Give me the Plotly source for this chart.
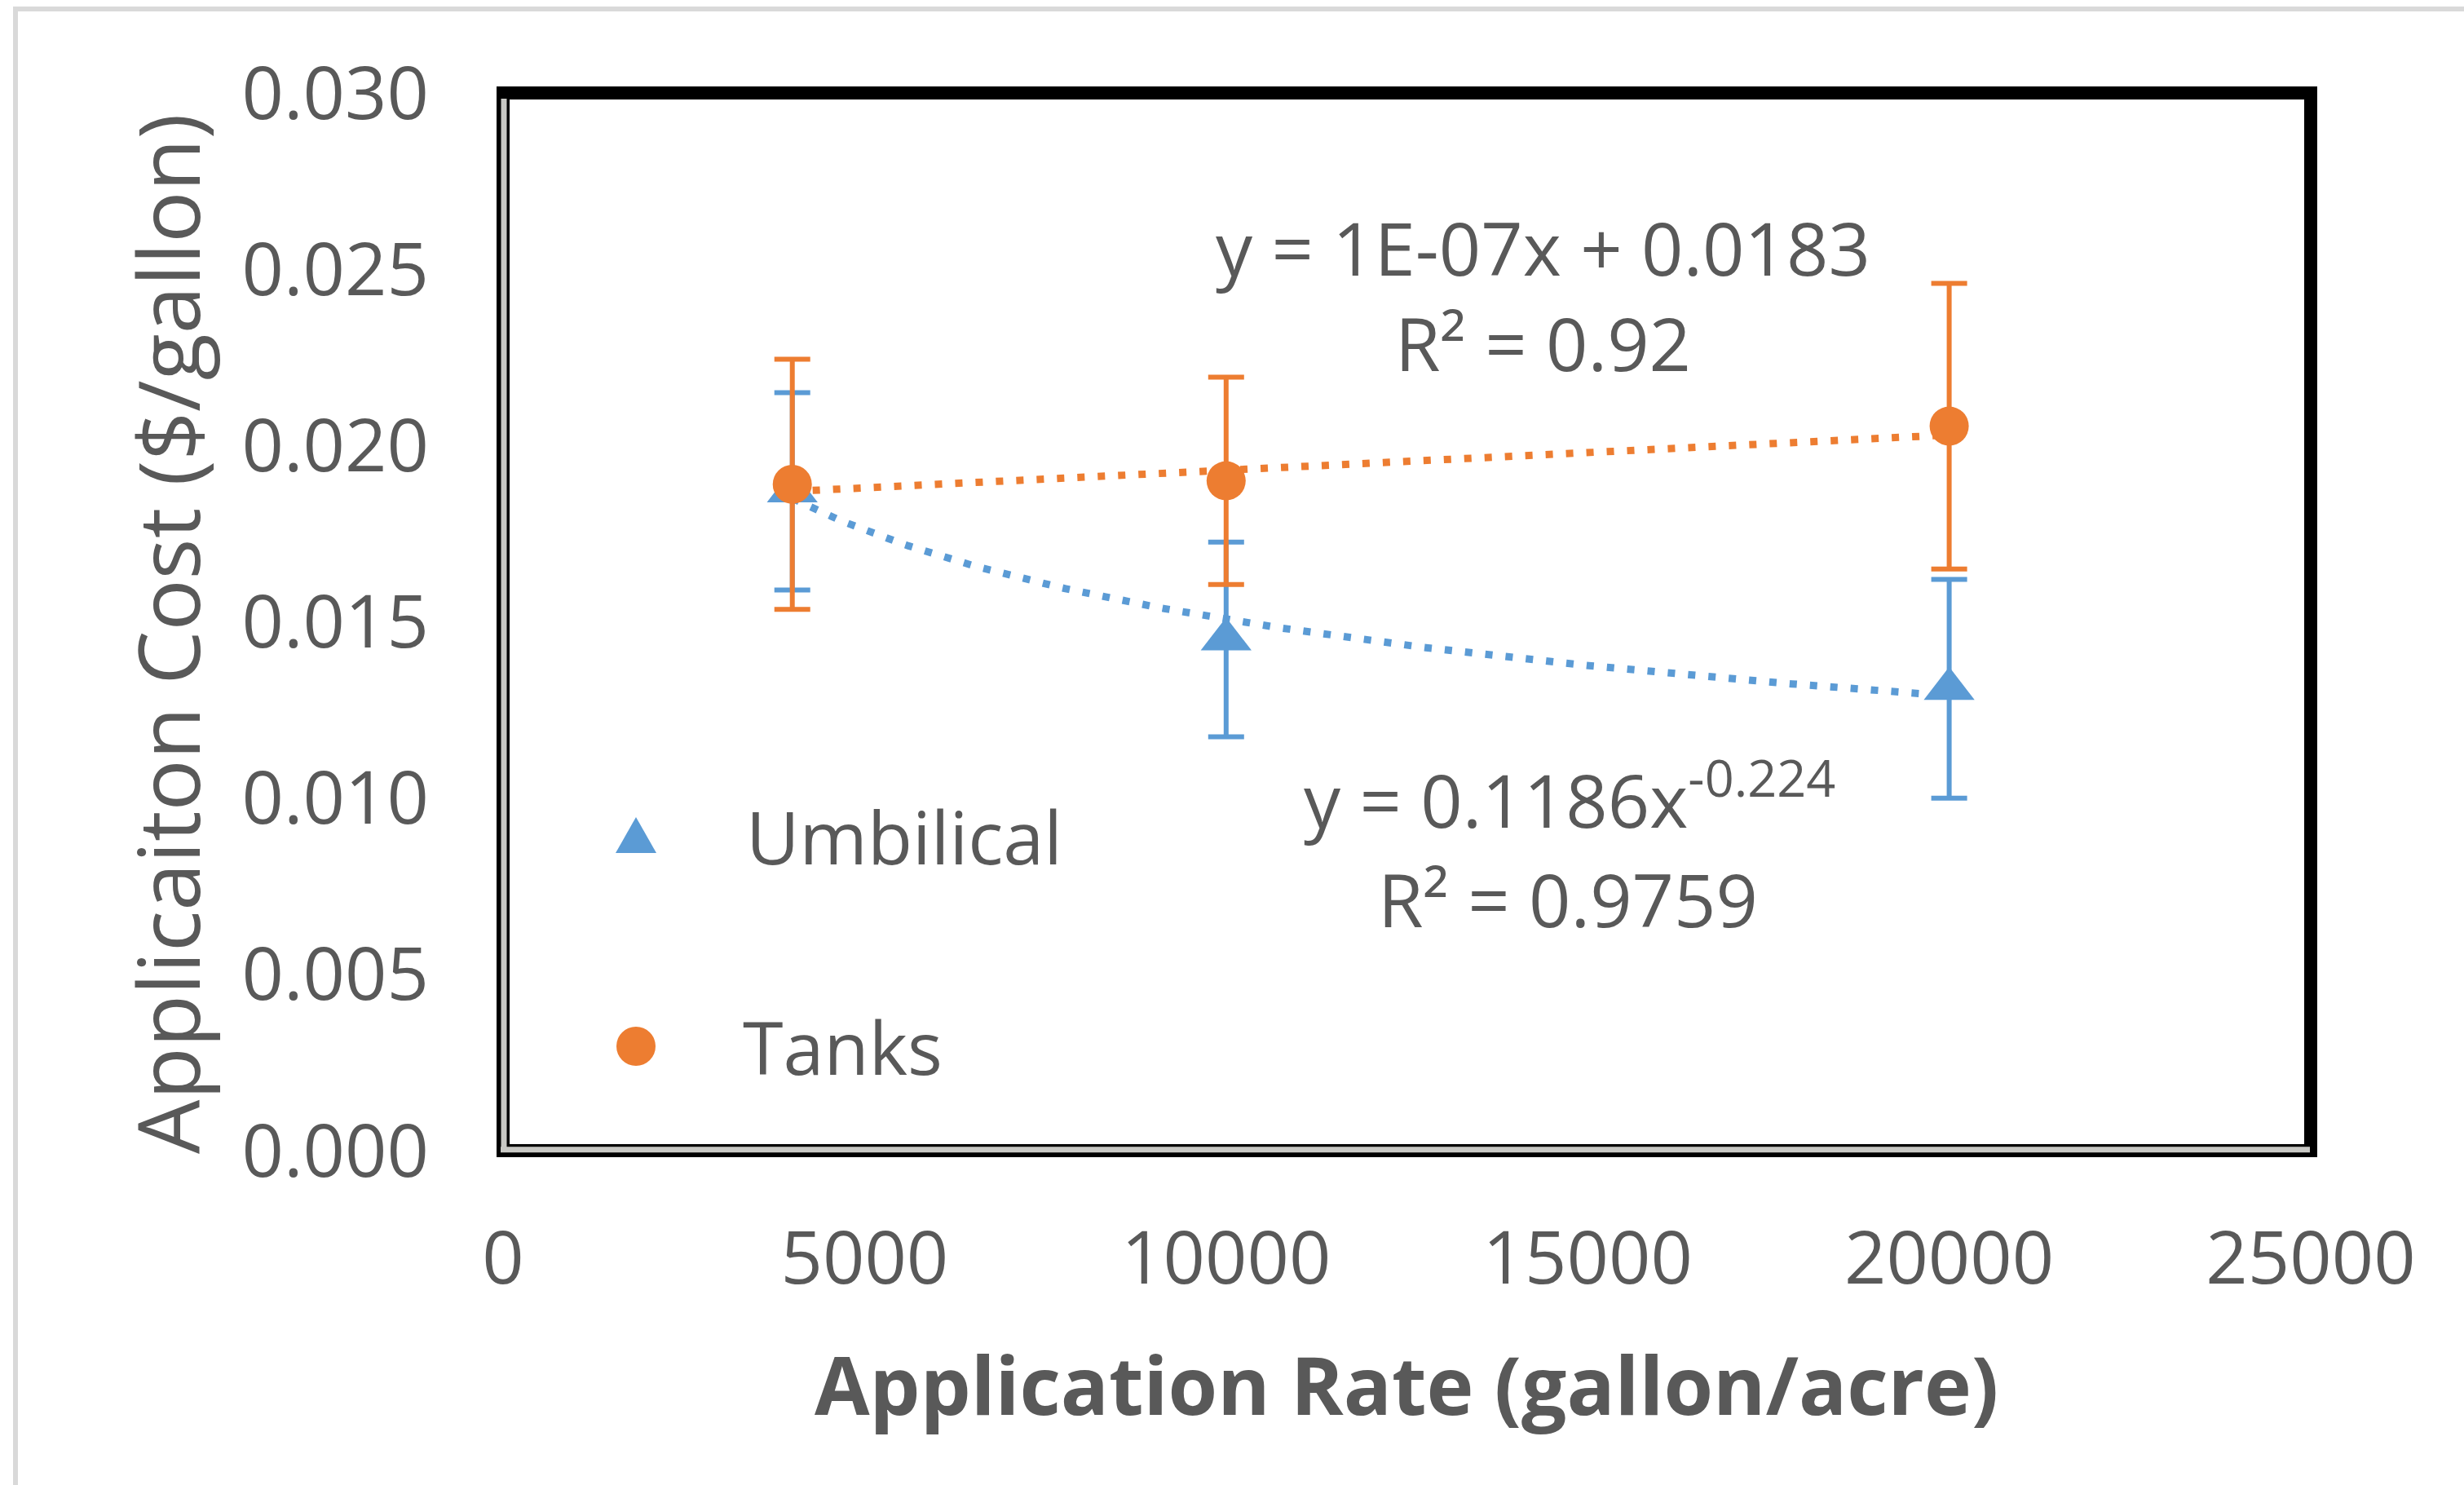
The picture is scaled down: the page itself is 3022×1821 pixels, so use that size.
import numpy as np
import plotly.graph_objects as go

# ---- data ----
rate = [4000, 10000, 20000]                       # gallon/acre
umbilical_cost = [0.0187, 0.0145, 0.0131]         # $/gallon
umbilical_err = [0.0028, 0.00276, 0.0031]
tanks_cost = [0.0189, 0.0190, 0.02055]
tanks_err = [0.00355, 0.00294, 0.00405]

# trendline coefficients (as reported on the chart)
tanks_slope, tanks_intercept = 1e-07, 0.0183
umb_coef, umb_exp = 0.1186, -0.224

x_ticks = [0, 5000, 10000, 15000, 20000, 25000]
y_ticks = [0.000, 0.005, 0.010, 0.015, 0.020, 0.025, 0.030]

BLUE = "#5B9BD5"
ORANGE = "#ED7D31"
TEXT = "#595959"
FONT = "Open Sans"

# plot-area geometry in pixels (used only to place layout decorations)
W, H = 3022, 1821
L, R, T, B = 617, 188, 114, 410
PW, PH = W - L - R, H - T - B


def px_x(p):
    return (p - L) / PW


def px_y(p):
    return (H - B - p) / PH


fig = go.Figure()

# trendlines
xt = np.linspace(rate[0], rate[-1], 200)
fig.add_trace(go.Scatter(
    x=xt, y=umb_coef * xt ** umb_exp, mode="lines",
    line=dict(color=BLUE, width=9, dash="9px,16px"),
    showlegend=False, hoverinfo="skip"))
fig.add_trace(go.Scatter(
    x=xt, y=tanks_slope * xt + tanks_intercept, mode="lines",
    line=dict(color=ORANGE, width=9, dash="9px,16px"),
    showlegend=False, hoverinfo="skip"))

# data series with error bars
fig.add_trace(go.Scatter(
    x=rate, y=umbilical_cost, mode="markers", name="Umbilical",
    marker=dict(symbol="triangle-up", size=54, color=BLUE),
    error_y=dict(type="data", array=umbilical_err, color=BLUE,
                 thickness=6, width=22),
    showlegend=False))
fig.add_trace(go.Scatter(
    x=rate, y=tanks_cost, mode="markers", name="Tanks",
    marker=dict(symbol="circle", size=48, color=ORANGE),
    error_y=dict(type="data", array=tanks_err, color=ORANGE,
                 thickness=6, width=22),
    showlegend=False))

shapes = [
    # outer light border of the chart area
    dict(type="rect", xref="paper", yref="paper",
         x0=px_x(19), x1=px_x(3200), y0=px_y(2000), y1=px_y(11),
         line=dict(color="#d9d9d9", width=6), layer="below"),
    # heavy plot-area frame
    dict(type="rect", xref="paper", yref="paper", x0=0, x1=1, y0=0, y1=1,
         line=dict(color="black", width=16)),
    # light inner stripes on the left and bottom edges
    dict(type="line", xref="paper", yref="paper",
         x0=px_x(618), x1=px_x(618), y0=px_y(1413), y1=px_y(121),
         line=dict(color="#c8c8c4", width=7)),
    dict(type="line", xref="paper", yref="paper",
         x0=px_x(614), x1=px_x(2833), y0=px_y(1409.7), y1=px_y(1409.7),
         line=dict(color="#c8c8c4", width=7)),
    # legend symbols
    dict(type="path", xref="paper", yref="paper",
         xsizemode="pixel", ysizemode="pixel",
         xanchor=px_x(780), yanchor=px_y(1025),
         path="M -25,-21 L 25,-21 L 0,23 Z",
         fillcolor=BLUE, line=dict(width=0)),
    dict(type="circle", xref="paper", yref="paper",
         xsizemode="pixel", ysizemode="pixel",
         xanchor=px_x(780), yanchor=px_y(1283),
         x0=-24, x1=24, y0=-24, y1=24,
         fillcolor=ORANGE, line=dict(width=0)),
]

tfont = dict(family=FONT, size=90, color=TEXT)
annotations = [
    dict(text="Umbilical", x=px_x(913), y=px_y(1025), xanchor="left",
         yanchor="middle"),
    dict(text="Tanks", x=px_x(909), y=px_y(1283), xanchor="left",
         yanchor="middle"),
    dict(text="y = 1E-07x + 0.0183", x=px_x(1892), y=px_y(303),
         xanchor="center", yanchor="middle"),
    dict(text="R² = 0.92", x=px_x(1892), y=px_y(420),
         xanchor="center", yanchor="middle"),
    dict(text="y = 0.1186x<sup>-0.224</sup>", x=px_x(1925), y=px_y(975),
         xanchor="center", yanchor="middle"),
    dict(text="R² = 0.9759", x=px_x(1923), y=px_y(1102),
         xanchor="center", yanchor="middle"),
    dict(text="Applicaiton Cost ($/gallon)", x=px_x(204), y=px_y(777),
         textangle=-90, xanchor="center", yanchor="middle",
         font=dict(family=FONT, size=105, color=TEXT)),
    dict(text="<b>Application Rate (gallon/acre)</b>", x=px_x(1725),
         y=px_y(1697), xanchor="center", yanchor="middle",
         font=dict(family=FONT, size=98, color=TEXT)),
]
for a in annotations:
    a.setdefault("font", tfont)
    a.update(xref="paper", yref="paper", showarrow=False)

fig.update_layout(
    width=W, height=H,
    margin=dict(l=L, r=R, t=T, b=B, pad=0),
    paper_bgcolor="white", plot_bgcolor="white",
    font=dict(family=FONT, color=TEXT),
    shapes=shapes, annotations=annotations,
    xaxis=dict(range=[0, 25000], tickvals=x_ticks,
               ticktext=[str(v) for v in x_ticks],
               showgrid=False, zeroline=False, showline=False, ticks="",
               tickfont=dict(family=FONT, size=90, color=TEXT),
               ticklabelstandoff=72),
    yaxis=dict(range=[0, 0.030], tickvals=y_ticks,
               ticktext=[f"{v:.3f}" for v in y_ticks],
               showgrid=False, zeroline=False, showline=False, ticks="",
               tickfont=dict(family=FONT, size=90, color=TEXT),
               ticklabelstandoff=90),
    showlegend=False,
)

fig.write_html("out.html")
